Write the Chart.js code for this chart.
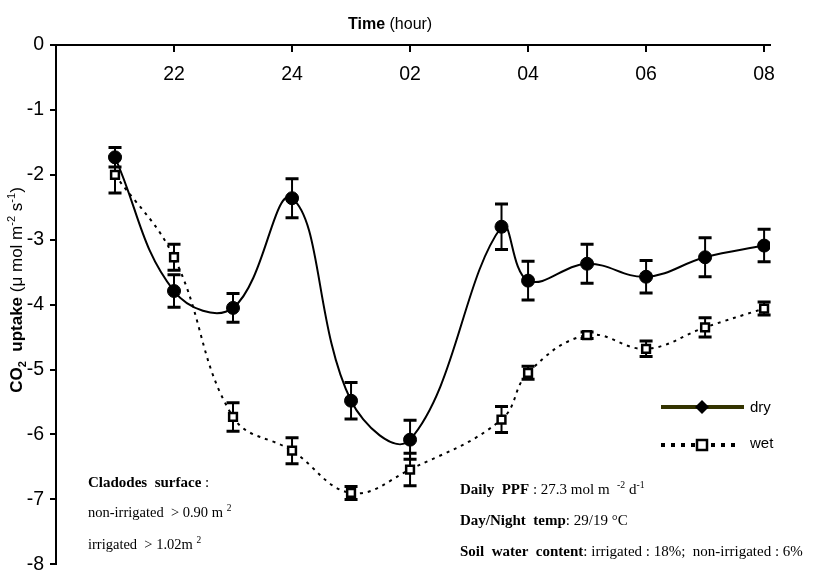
<!DOCTYPE html>
<html>
<head>
<meta charset="utf-8">
<script src="https://cdn.jsdelivr.net/npm/chart.js@4.4.1/dist/chart.umd.min.js"></script>
<style>
  html, body { margin: 0; padding: 0; background: #fff; }
  #wrap { position: relative; width: 821px; height: 582px; }
  canvas { position: absolute; left: 0; top: 0; }
  .txt { position: absolute; white-space: nowrap; color: #000; }
  .sans { font-family: 'Liberation Sans', Arial, sans-serif; }
  .serif { font-family: 'Liberation Serif', 'Times New Roman', serif; font-size: 15px; }
  sup, sub { font-size: 65%; line-height: 0; }
  #ylab { width: 280px; text-align: center; font-size: 17px; transform: rotate(-90deg); left: -123px; top: 280px; }
</style>
</head>
<body>
<div id="wrap">
  <canvas id="chart" width="821" height="582"></canvas>
  <div class="txt sans" style="left:348px; top:15px; font-size:16px;"><b>Time</b> (hour)</div>
  <div class="txt sans" id="ylab"><b>CO<sub>2</sub>&nbsp; uptake</b> (μ mol m<sup>-2</sup> s<sup>-1</sup>)</div>
  <div class="txt sans" style="left:750px; top:398px; font-size:15px;">dry</div>
  <div class="txt sans" style="left:750px; top:434px; font-size:15px;">wet</div>
  <div class="txt serif" style="left:88px; top:474px;"><b>Cladodes&nbsp; surface</b> :</div>
  <div class="txt serif" style="left:88px; top:504px; font-size:14.5px;">non-irrigated &nbsp;&gt; 0.90 m <sup>2</sup></div>
  <div class="txt serif" style="left:88px; top:536px; font-size:14.5px;">irrigated &nbsp;&gt; 1.02m <sup>2</sup></div>
  <div class="txt serif" style="left:460px; top:481px;"><b>Daily&nbsp; PPF</b> : 27.3 mol m &nbsp;<sup>-2</sup> d<sup>-1</sup></div>
  <div class="txt serif" style="left:460px; top:512px;"><b>Day/Night&nbsp; temp</b>: 29/19 °C</div>
  <div class="txt serif" style="left:460px; top:543px;"><b>Soil&nbsp; water&nbsp; content</b>: irrigated : 18%; &nbsp;non-irrigated : 6%</div>
</div>
<script>
// Datos
const hours = [21, 22, 23, 24, 25, 26, 27.55, 28, 29, 30, 31, 32];
const dryValues = [-1.73, -3.79, -4.05, -2.36, -5.48, -6.08, -2.8, -3.63, -3.37, -3.57, -3.27, -3.09];
const dryErrors = [0.15, 0.25, 0.22, 0.3, 0.28, 0.3, 0.35, 0.3, 0.3, 0.25, 0.3, 0.25];
const wetValues = [-2.0, -3.27, -5.73, -6.25, -6.9, -6.54, -5.77, -5.05, -4.47, -4.68, -4.35, -4.06];
const wetErrors = [0.28, 0.2, 0.22, 0.2, 0.1, 0.25, 0.2, 0.1, 0.05, 0.12, 0.15, 0.1];
const xTickValues = [22, 24, 26, 28, 30, 32];
const xTickLabels = ['22', '24', '02', '04', '06', '08'];

function toPoints(values) {
  return values.map((v, i) => ({ x: hours[i], y: v }));
}

// Barras de error dibujadas con las escalas del gráfico
const errorBars = {
  id: 'errorBars',
  beforeDatasetsDraw(chart) {
    const ctx = chart.ctx;
    const xs = chart.scales.x, ys = chart.scales.y;
    const sets = [[dryValues, dryErrors], [wetValues, wetErrors]];
    ctx.save();
    ctx.strokeStyle = '#000';
    sets.forEach(([vals, errs]) => {
      vals.forEach((v, i) => {
        const x = xs.getPixelForValue(hours[i]);
        const top = ys.getPixelForValue(v + errs[i]);
        const bot = ys.getPixelForValue(v - errs[i]);
        ctx.lineWidth = 2;
        ctx.beginPath();
        ctx.moveTo(x, top); ctx.lineTo(x, bot);
        ctx.stroke();
        ctx.lineWidth = 3;
        ctx.beginPath();
        ctx.moveTo(x - 6.5, top); ctx.lineTo(x + 6.5, top);
        ctx.moveTo(x - 6.5, bot); ctx.lineTo(x + 6.5, bot);
        ctx.stroke();
      });
    });
    ctx.restore();
  }
};

// Símbolos de la leyenda
const legendMarks = {
  id: 'legendMarks',
  afterDraw(chart) {
    const ctx = chart.ctx;
    ctx.save();
    ctx.strokeStyle = '#333300';
    ctx.lineWidth = 4;
    ctx.beginPath();
    ctx.moveTo(661, 407); ctx.lineTo(744, 407);
    ctx.stroke();
    ctx.fillStyle = '#000';
    ctx.beginPath();
    ctx.moveTo(702, 400); ctx.lineTo(709, 407); ctx.lineTo(702, 414); ctx.lineTo(695, 407);
    ctx.closePath();
    ctx.fill();
    for (let x = 661; x <= 740; x += 10) {
      if (Math.abs(x - 701) < 8) continue;
      ctx.fillRect(x, 443, 4, 4);
    }
    ctx.fillStyle = '#fff';
    ctx.fillRect(697, 440, 10, 10);
    ctx.lineWidth = 2.5;
    ctx.strokeStyle = '#000';
    ctx.strokeRect(697, 440, 10, 10);
    ctx.restore();
  }
};

const axisFont = { family: "'Liberation Sans', Arial, sans-serif", size: 19.5 };

new Chart(document.getElementById('chart').getContext('2d'), {
  type: 'line',
  data: {
    datasets: [
      {
        label: 'dry',
        data: toPoints(dryValues),
        borderColor: '#000',
        borderWidth: 2,
        tension: 0.4,
        pointStyle: 'circle',
        pointRadius: 6.5,
        pointBackgroundColor: '#000',
        pointBorderColor: '#000',
        pointBorderWidth: 1
      },
      {
        label: 'wet',
        data: toPoints(wetValues),
        borderColor: '#000',
        borderWidth: 2,
        borderDash: [3, 5],
        tension: 0.4,
        pointStyle: 'rect',
        pointRadius: 5.5,
        pointBackgroundColor: '#fff',
        pointBorderColor: '#000',
        pointBorderWidth: 2.5
      }
    ]
  },
  options: {
    responsive: false,
    animation: false,
    layout: { padding: { top: 45, right: 51, bottom: 4, left: 0 } },
    plugins: {
      legend: { display: false },
      tooltip: { enabled: false }
    },
    scales: {
      x: {
        type: 'linear',
        min: 20,
        max: 32.1,
        position: { y: 0 },
        afterFit: s => { s.height = 0; },
        afterBuildTicks: s => { s.ticks = xTickValues.map(v => ({ value: v })); },
        ticks: {
          callback: v => xTickLabels[xTickValues.indexOf(v)],
          font: axisFont,
          color: '#000',
          padding: 12,
          maxRotation: 0,
          autoSkip: false
        },
        grid: { drawOnChartArea: false, drawTicks: true, tickLength: 6, color: '#000', lineWidth: 2 },
        border: { display: true, color: '#000', width: 2 }
      },
      y: {
        min: -8,
        max: 0,
        afterFit: s => { s.width = 56; },
        ticks: { stepSize: 1, font: axisFont, color: '#000', padding: 6 },
        grid: { drawOnChartArea: false, drawTicks: true, tickLength: 6, color: '#000', lineWidth: 2 },
        border: { display: true, color: '#000', width: 2 }
      }
    }
  },
  plugins: [errorBars, legendMarks]
});
</script>
</body>
</html>
